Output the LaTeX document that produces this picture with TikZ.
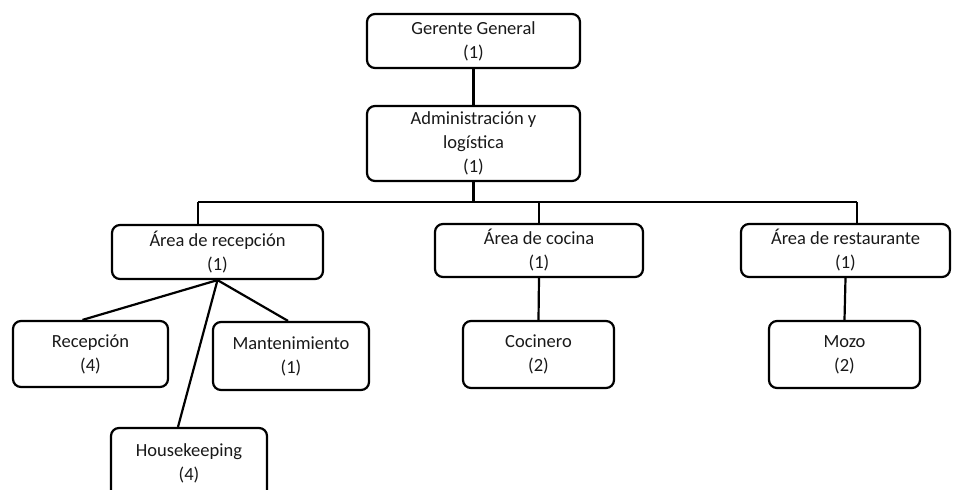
\documentclass[tikz,border=0pt]{standalone}
\usepackage{fontspec}
\setmainfont{Carlito}
\begin{document}
\begin{tikzpicture}[x=1pt,y=-1pt,
  bx/.style={draw=black, line width=2.2pt, rounded corners=8pt, inner sep=0pt,
    align=center, font=\fontsize{18.5}{24}\selectfont, text=black!90},
  ln/.style={line width=2.2pt}]
\clip (0,0) rectangle (956,490);
\fill[white] (0,0) rectangle (956,490);
\node[bx, minimum width=213pt, minimum height=54pt] (gg) at (473.5,41) {Gerente General\\(1)};
\node[bx, minimum width=213pt, minimum height=75pt] (adm) at (473.5,143.5) {Administración y\\logística\\(1)};
\node[bx, minimum width=211pt, minimum height=54pt] (rec) at (217.5,252) {Área de recepción\\(1)};
\node[bx, minimum width=208pt, minimum height=53pt] (coc) at (539,250.5) {Área de cocina\\(1)};
\node[bx, minimum width=209pt, minimum height=53pt] (res) at (845.5,250.5) {Área de restaurante\\(1)};
\node[bx, minimum width=155pt, minimum height=66pt] (recep) at (90.5,354) {Recepción\\(4)};
\node[bx, minimum width=156pt, minimum height=68pt] (mant) at (291,356) {Mantenimiento\\(1)};
\node[bx, minimum width=156pt, minimum height=70pt] (hk) at (189,463) {Housekeeping\\(4)};
\node[bx, minimum width=151pt, minimum height=67pt] (cook) at (538.5,354.5) {Cocinero\\(2)};
\node[bx, minimum width=151pt, minimum height=67pt] (mozo) at (844.5,354.5) {Mozo\\(2)};
\coordinate (bl) at (198,202);
\coordinate (br) at (857,202);
\draw[ln] (gg.south) -- (adm.north);
\draw[ln] (adm.south) -- (adm.south |- bl);
\draw[ln] (bl) -- (br);
\draw[ln] (bl) -- (bl |- rec.north);
\draw[ln] (coc.north) -- (coc.north |- bl);
\draw[ln] (br) -- (br |- res.north);
\draw[ln] (rec.south) -- ([xshift=-8pt]recep.north);
\draw[ln] (rec.south) -- ([xshift=-3pt]mant.north);
\draw[ln] (rec.south) -- ([xshift=-11pt]hk.north);
\draw[ln] (coc.south) -- (cook.north);
\draw[ln] (res.south) -- (mozo.north);
\end{tikzpicture}
\end{document}
